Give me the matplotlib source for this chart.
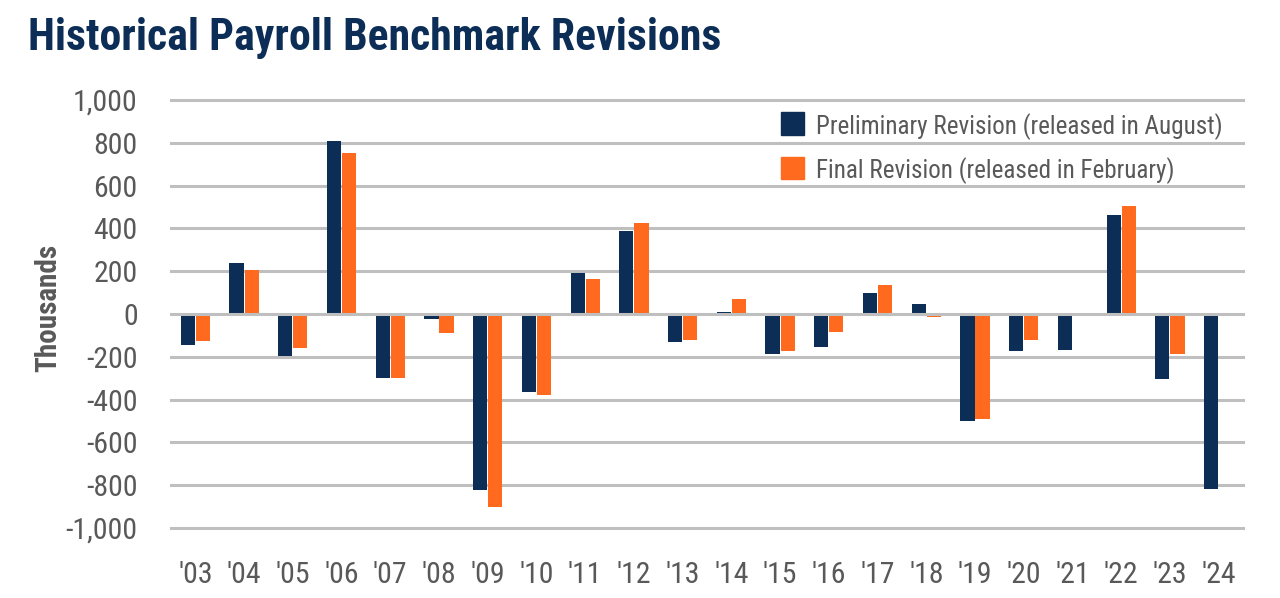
import matplotlib.pyplot as plt
import numpy as np
from matplotlib import font_manager
from matplotlib.patches import Patch

DPI = 100

years = ["'03", "'04", "'05", "'06", "'07", "'08", "'09", "'10", "'11", "'12", "'13",
         "'14", "'15", "'16", "'17", "'18", "'19", "'20", "'21", "'22", "'23", "'24"]
preliminary = [-145, 237, -195, 810, -300, -22, -824, -366, 193, 387, -133,
               8, -186, -155, 97, 45, -501, -173, -166, 462, -306, -818]
final = [-128, 206, -160, 752, -297, -89, -902, -378, 164, 424, -122,
         70, -175, -85, 136, -16, -489, -122, -10, 506, -187, np.nan]
yticks = list(range(-1000, 1001, 200))

NAVY = '#0B2D56'
ORANGE = '#FF6A1E'
GRAY_TEXT = '#595959'
GRID = '#BFBFBF'

# pick a narrow family that also has a bold face
weights = {}
for f in font_manager.fontManager.ttflist:
    weights.setdefault(f.name, set()).add(f.weight)
family = 'Roboto'
for name in ['Liberation Sans Narrow', 'Roboto Condensed', 'Open Sans Condensed',
             'Noto Sans Condensed', 'DejaVu Sans Condensed']:
    if name in weights:
        family = name
        break
plt.rcParams['font.family'] = [family, 'DejaVu Sans']

fig = plt.figure(dpi=DPI, figsize=(1280 / DPI, 598 / DPI))
ax = fig.add_axes([171 / 1280, 1 - 528 / 598, (1243 - 171) / 1280, 428 / 598])

x = np.arange(len(years))
w = 0.29
ax.bar(x - w / 2 - 0.01, preliminary, width=w, color=NAVY, zorder=2)
ax.bar(x + w / 2 + 0.01, final, width=w, color=ORANGE, zorder=2)

for t in yticks:
    ax.axhline(t, color=GRID, linewidth=2.2, zorder=1 if t != 0 else 3, clip_on=False)

ax.set_xlim(-0.5, len(years) - 0.5)
ax.set_ylim(-1000, 1000)
ax.set_yticks(yticks)
ax.set_yticklabels([f'{v:,}' for v in yticks])
ax.set_xticks(x)
ax.set_xticklabels(years)
ax.tick_params(length=0, labelsize=21.5, colors=GRAY_TEXT)
ax.tick_params(axis='y', pad=24)
ax.tick_params(axis='x', pad=24)
for s in ax.spines.values():
    s.set_visible(False)

ax.set_ylabel('Thousands', fontsize=21, fontweight='bold', color=GRAY_TEXT)
ax.yaxis.set_label_coords(-0.1017, 0.515)

title = fig.text(28 / 1280, 1 - 38 / 598, 'Historical Payroll Benchmark Revisions',
                 fontsize=37, fontweight='bold', color=NAVY, va='center', ha='left')

handles = [Patch(color=NAVY, label='Preliminary Revision (released in August)'),
           Patch(color=ORANGE, label='Final Revision (released in February)')]
leg = ax.legend(handles=handles, loc='upper left', bbox_to_anchor=(592 / 1072, 1.012),
                frameon=False, fontsize=21, labelcolor=GRAY_TEXT, handlelength=0.8,
                handleheight=0.8, handletextpad=0.4, labelspacing=0.6, borderaxespad=0.2)

# squeeze wide fonts down to the reference text widths
r = fig.canvas.get_renderer()
tw = title.get_window_extent(r).width
title.set_fontsize(37 * min(1, 694 / tw))
lw = leg.get_texts()[0].get_window_extent(r).width
if lw > 407:
    for t in leg.get_texts():
        t.set_fontsize(21 * 407 / lw)

fig.savefig('out.png', dpi=DPI)
